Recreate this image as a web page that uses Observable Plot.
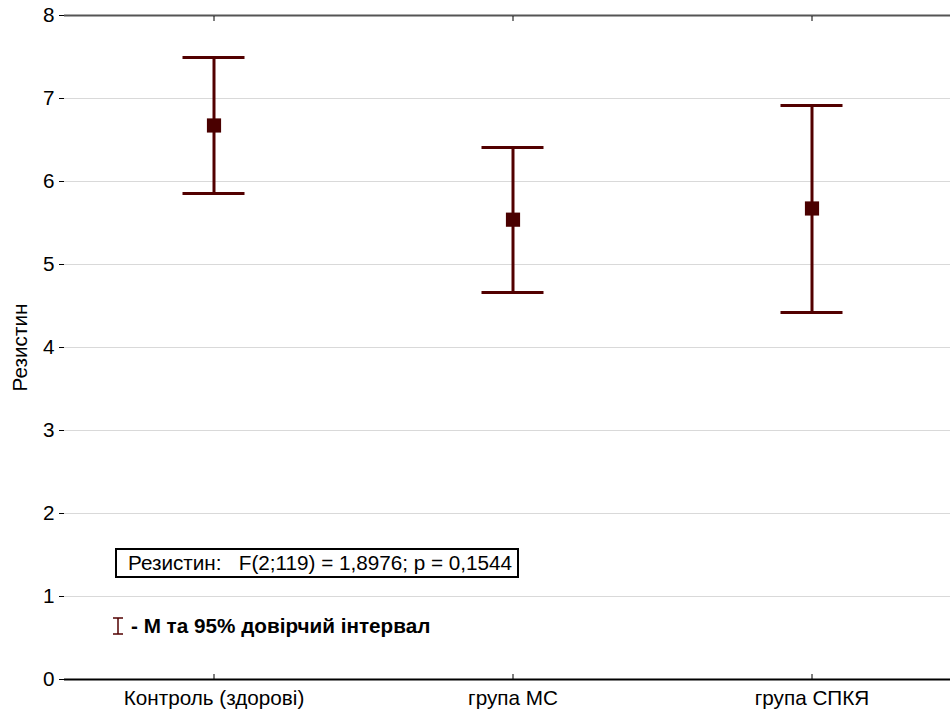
<!DOCTYPE html>
<html><head><meta charset="utf-8">
<script src="https://cdn.jsdelivr.net/npm/d3@7"></script>
<script src="https://cdn.jsdelivr.net/npm/@observablehq/plot@0.6"></script>
<style>
body{margin:0;background:#fff;font-family:"Liberation Sans",Arial,sans-serif;}
#wrap{position:relative;width:950px;height:711px;overflow:hidden;}
#stat{position:absolute;left:115px;top:548px;height:26px;line-height:26px;border:2px solid #000;padding:0 5px 0 11px;font-size:20.7px;color:#000;background:#fff;white-space:pre;}
#legend{position:absolute;left:110px;top:615px;font-size:20.7px;font-weight:bold;color:#000;display:flex;align-items:center;white-space:pre;line-height:22px;}
#legend svg{margin-right:5px;}
</style></head>
<body>
<div id="wrap">
<div id="chart"></div>
<div id="stat"></div>
<div id="legend"></div>
</div>
<script>
const categories = ["Контроль (здорові)", "група МС", "група СПКЯ"];
const means = [6.675, 5.54, 5.675];
const lower = [5.855, 4.663, 4.422];
const upper = [7.494, 6.41, 6.916];
const yTicks = [0, 1, 2, 3, 4, 5, 6, 7, 8];
const yLabel = "Резистин";
const statText = "Резистин:   F(2;119) = 1,8976; p = 0,1544";
const legendText = "- М та 95% довірчий інтервал";

const data = categories.map((c, i) => ({cat: c, mean: means[i], lo: lower[i], hi: upper[i]}));
const col = "#520000";

const chart = Plot.plot({
  width: 950,
  height: 711,
  marginTop: 15,
  marginBottom: 32,
  marginLeft: 64,
  marginRight: 0,
  style: {fontFamily: "Liberation Sans, Arial, sans-serif", fontSize: "20.7px", background: "#fff", color: "#000"},
  x: {type: "band", domain: categories, range: [64, 961], padding: 0},
  y: {domain: [0, 8]},
  marks: [
    Plot.gridY(yTicks.slice(1, -1), {stroke: "#d9d9d9", strokeOpacity: 1, strokeWidth: 1}),
    Plot.ruleY([8], {stroke: "#555", strokeWidth: 2}),
    Plot.ruleY([0], {stroke: "#000", strokeWidth: 2}),
    Plot.ruleX([0], {x: () => null, frameAnchor: "left", stroke: "#000", strokeWidth: 2}),
    Plot.axisY({ticks: yTicks, tickSize: 5, tickPadding: 5, tickFormat: d => String(d), fontSize: 20.7, label: yLabel, labelAnchor: "center", labelArrow: "none", labelOffset: 52}),
    Plot.axisX({anchor: "bottom", tickSize: -5, tickPadding: 16, fontSize: 20.7, label: null}),
    Plot.axisX({anchor: "top", tickSize: -5, tickFormat: () => "", label: null}),
    Plot.ruleX(data, {x: "cat", y1: "lo", y2: "hi", stroke: col, strokeWidth: 3}),
    Plot.tickY(data, {x: "cat", y: "hi", stroke: col, strokeWidth: 3, insetLeft: 118.5, insetRight: 118.5}),
    Plot.tickY(data, {x: "cat", y: "lo", stroke: col, strokeWidth: 3, insetLeft: 118.5, insetRight: 118.5}),
    Plot.dot(data, {x: "cat", y: "mean", symbol: "square", r: 8, fill: "#4a0000", stroke: "none"})
  ]
});
document.getElementById("chart").appendChild(chart);
document.getElementById("stat").textContent = statText;
const lg = document.getElementById("legend");
lg.innerHTML = '<svg width="16" height="20"><line x1="8" y1="2" x2="8" y2="18" stroke="' + col + '" stroke-width="1.5"/><line x1="3" y1="2" x2="13" y2="2" stroke="' + col + '" stroke-width="1.5"/><line x1="3" y1="18" x2="13" y2="18" stroke="' + col + '" stroke-width="1.5"/></svg>';
const sp = document.createElement("span");
sp.textContent = legendText;
lg.appendChild(sp);
</script>
</body></html>
